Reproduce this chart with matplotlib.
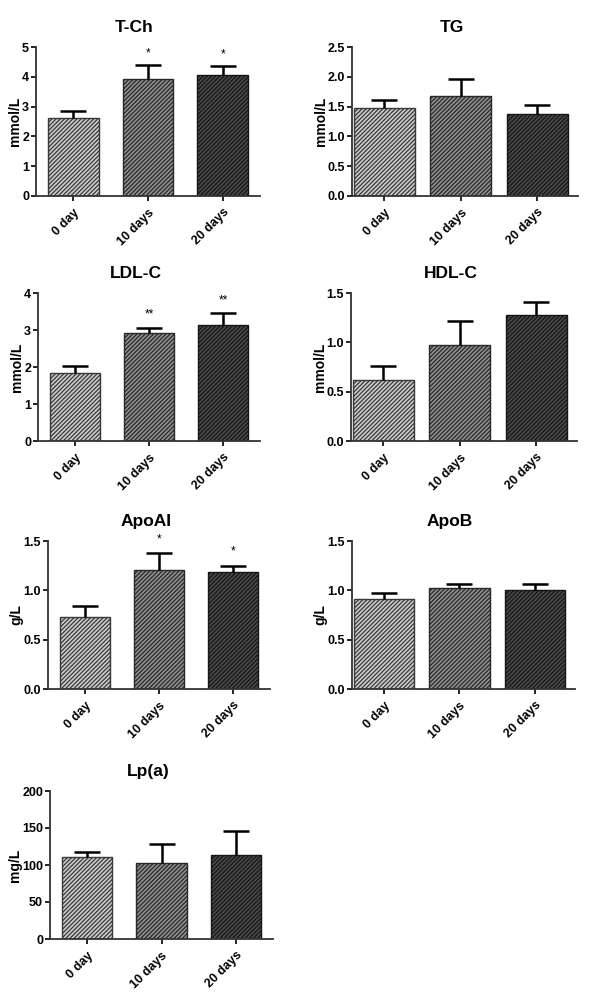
import numpy as np
import matplotlib
matplotlib.use('Agg')
from matplotlib import pyplot as plt

plt.rcParams['font.family'] = ['Liberation Sans', 'DejaVu Sans']
plt.rcParams['font.weight'] = 'bold'
plt.rcParams['hatch.linewidth'] = 0.9

# Data ####
groups = ['0 day', '10 days', '20 days']

tch_mean = [2.61, 3.93, 4.05]
tch_err = [0.24, 0.47, 0.31]
tch_star = ['', '*', '*']

tg_mean = [1.47, 1.68, 1.38]
tg_err = [0.14, 0.29, 0.14]

ldl_mean = [1.83, 2.91, 3.13]
ldl_err = [0.20, 0.15, 0.32]
ldl_star = ['', '**', '**']

hdl_mean = [0.62, 0.97, 1.28]
hdl_err = [0.14, 0.25, 0.13]

apoa_mean = [0.73, 1.21, 1.185]
apoa_err = [0.11, 0.165, 0.065]
apoa_star = ['', '*', '*']

apob_mean = [0.91, 1.02, 1.0]
apob_err = [0.06, 0.04, 0.06]

lpa_mean = [111, 102.5, 114]
lpa_err = [6, 26.5, 32]

face_cols = ['#cccccc', '#909090', '#4a4a4a']
hatch_cols = ['#383838', '#282828', '#151515']

fig = plt.figure(figsize=(6.0, 9.97), dpi=100)
W, H = 600., 997.

def add_panel(px_left, px_right, px_top, px_bot, title, ylabel, mean, err, ymax, ystep,
              fmt, star=None, star_off=0.0, width=0.68, xlim=(-0.5, 2.5)):
    ax = fig.add_axes([px_left / W, 1 - px_bot / H, (px_right - px_left) / W, (px_bot - px_top) / H])
    x = np.arange(len(groups))
    for i in range(len(groups)):
        ax.bar(x[i], mean[i], width=width, color=face_cols[i], edgecolor=hatch_cols[i],
               hatch='////////', linewidth=1.0, zorder=2)
        eb = ax.errorbar(x[i], mean[i], yerr=[[0], [err[i]]], color='black', capsize=9.5,
                         elinewidth=1.8, capthick=1.8, zorder=3)
        eb[1][0].set_visible(False)  # drop the cap sitting on the bar top
        if star is not None and star[i]:
            ax.text(x[i], mean[i] + err[i] + star_off, star[i], ha='center', va='center',
                    fontsize=8.5, fontweight='normal')
    ax.set_xlim(*xlim)
    ax.set_ylim(0, ymax)
    ax.set_yticks(np.arange(0, ymax + ystep / 2, ystep))
    ax.yaxis.set_major_formatter(matplotlib.ticker.FormatStrFormatter(fmt))
    ax.set_xticks(x)
    ax.set_xticklabels(groups, rotation=45, ha='right', rotation_mode='anchor',
                       fontweight='bold', fontsize=9)
    for lab in ax.get_yticklabels():
        lab.set_fontweight('bold')
    for s in ['top', 'right']:
        ax.spines[s].set_visible(False)
    for s in ['left', 'bottom']:
        ax.spines[s].set_linewidth(1.3)
        ax.spines[s].set_color('#333333')
    ax.tick_params(axis='both', direction='out', length=3.5, width=1.2, labelsize=9, pad=1.5)
    ax.tick_params(axis='x', pad=4)
    ax.set_ylabel(ylabel, fontsize=10, fontweight='bold', labelpad=0)
    ax.set_title(title, fontsize=12.5, fontweight='bold', x=0.44, pad=11)
    return ax

right_lim = (-0.42, 2.53)

add_panel(36, 260, 47, 196, 'T-Ch', 'mmol/L', tch_mean, tch_err, 5, 1, '%d',
          star=tch_star, star_off=0.38)
add_panel(352, 578, 47, 196, 'TG', 'mmol/L', tg_mean, tg_err, 2.5, 0.5, '%.1f',
          width=0.8, xlim=right_lim)
add_panel(38, 260, 293, 441, 'LDL-C', 'mmol/L', ldl_mean, ldl_err, 4, 1, '%d',
          star=ldl_star, star_off=0.35)
add_panel(351, 577, 293, 441, 'HDL-C', 'mmol/L', hdl_mean, hdl_err, 1.5, 0.5, '%.1f',
          width=0.8, xlim=right_lim)
add_panel(48, 270, 541, 689, 'ApoAI', 'g/L', apoa_mean, apoa_err, 1.5, 0.5, '%.1f',
          star=apoa_star, star_off=0.14)
add_panel(352, 575, 541, 689, 'ApoB', 'g/L', apob_mean, apob_err, 1.5, 0.5, '%.1f',
          width=0.8, xlim=right_lim)
add_panel(50, 273, 791, 939, 'Lp(a)', 'mg/L', lpa_mean, lpa_err, 200, 50, '%d')

plt.savefig('out.png', dpi=100, format='png')
